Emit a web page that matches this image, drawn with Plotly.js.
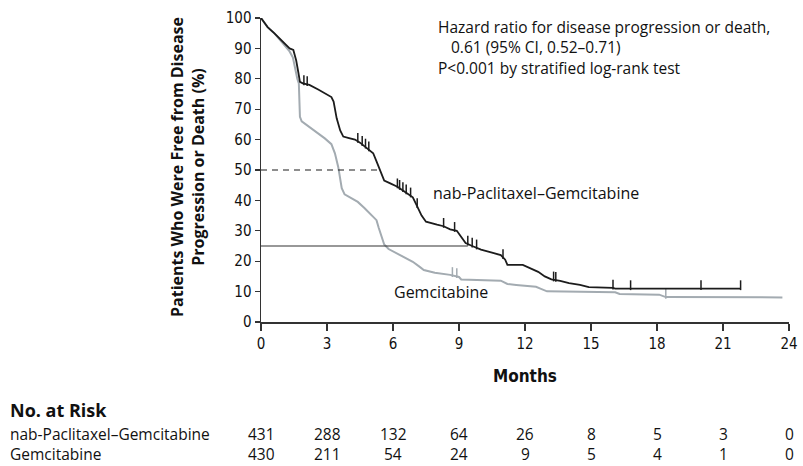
<!DOCTYPE html>
<html>
<head>
<meta charset="utf-8">
<script src="https://cdn.plot.ly/plotly-3.0.1.min.js"></script>
<style>
html,body{margin:0;padding:0;background:#fff;}
#chart{width:803px;height:466px;}
</style>
</head>
<body>
<div id="chart"></div>
<script>
// Kaplan-Meier curves (months, % free from progression or death)
const nabTime = [0,0.3,0.6,1.0,1.3,1.47,1.6,1.7,1.77,1.9,2.2,2.6,3.0,3.2,3.3,3.44,3.6,3.74,4.0,4.27,4.5,4.73,5.1,5.26,5.41,5.5,5.6,5.9,6.2,6.5,6.9,7.1,7.3,7.5,7.7,8.0,8.3,8.6,8.9,9.1,9.3,9.6,10.0,10.5,10.9,11.1,11.2,11.9,12.2,12.6,12.9,13.2,13.6,14.0,14.5,14.9,16.0,16.1,21.8];
const nabSurv = [100,97,95,92,90,89.5,86,82,79,78.5,78,76.5,75,74,72.5,67,63,61,60.5,60,59,57.7,55.5,52.7,50,48,46.5,45.5,44.5,43,41,38,35,33,32.5,32,31.5,30.5,30,28,26,25,23.8,22.8,22,20.5,18.8,18.8,17.8,16.5,15,14,13.5,12.8,12.2,11.5,11.2,11.0,11.0];
const nabCensor = [1.95,2.1,4.4,4.6,4.75,4.9,6.2,6.3,6.45,6.6,6.8,7.1,8.3,8.8,9.4,9.6,9.8,11.0,13.3,13.4,16.0,16.8,20.0,21.8];

const gemTime = [0,0.3,0.6,1.0,1.3,1.45,1.55,1.65,1.72,1.77,1.85,2.08,2.4,2.9,3.2,3.36,3.51,3.6,3.67,3.8,4.05,4.4,4.7,5.0,5.25,5.35,5.45,5.6,5.8,6.2,6.6,6.9,7.2,7.4,7.9,8.6,9.0,9.1,10.9,11.2,11.6,12.5,12.7,13.0,16.1,16.3,18.1,18.4,23.7];
const gemSurv = [100,97,95,91.5,89,87,83,80,78.5,67.5,66,64.8,63,60.4,58.5,55.5,51,47,44,42,41,39.5,37.5,35.5,33.5,31,28.5,25.5,24,22.5,21,19.8,18.2,17.1,16.2,15.5,14.8,14.0,13.6,12.5,12.2,11.6,11,10.1,9.8,9.2,9.0,8.2,8.1];
const gemCensor = [8.7,8.9,18.4];

// Reference lines
const medianLevel = 50, medianEnd = 5.3;
const quartileLevel = 25, quartileEnd = 9.4;

// Axis ticks
const xTicks = [0,3,6,9,12,15,18,21,24];
const yTicks = [0,10,20,30,40,50,60,70,80,90,100];

// Number at risk
const riskNab = [431,288,132,64,26,8,5,3,0];
const riskGem = [430,211,54,24,9,5,4,1,0];
const labelNab = 'nab-Paclitaxel\u2013Gemcitabine';
const labelGem = 'Gemcitabine';

const BLACK = '#1c1c1c';
const GREY = '#a3abb1';
const COND = '"Liberation Sans Narrow","DejaVu Sans Condensed",Arial,sans-serif';
const SANS = '"Open Sans","DejaVu Sans",sans-serif';

function interpAt(times, surv, t){
  if (t <= times[0]) return surv[0];
  for (let i=1;i<times.length;i++){
    if (t <= times[i]){
      const f = (t-times[i-1])/(times[i]-times[i-1]);
      return surv[i-1] + f*(surv[i]-surv[i-1]);
    }
  }
  return surv[surv.length-1];
}

const traces = [
  {x: gemTime, y: gemSurv, type:'scatter', mode:'lines', line:{shape:'linear', color:GREY, width:2}, cliponaxis:false, hoverinfo:'skip'},
  {x: gemCensor, y: gemCensor.map(t=>interpAt(gemTime,gemSurv,t)+1.1), type:'scatter', mode:'markers',
   marker:{symbol:'line-ns', size:7, line:{color:GREY, width:1.5}}, cliponaxis:false, hoverinfo:'skip'},
  {x: nabTime, y: nabSurv, type:'scatter', mode:'lines', line:{shape:'linear', color:BLACK, width:1.8}, cliponaxis:false, hoverinfo:'skip'},
  {x: nabCensor, y: nabCensor.map(t=>interpAt(nabTime,nabSurv,t)+1.1), type:'scatter', mode:'markers',
   marker:{symbol:'line-ns', size:7, line:{color:BLACK, width:1.5}}, cliponaxis:false, hoverinfo:'skip'},
  {x:[0, medianEnd], y:[medianLevel, medianLevel], type:'scatter', mode:'lines', line:{color:BLACK, width:1.2, dash:'6px,5px'}, hoverinfo:'skip'},
  {x:[0, quartileEnd], y:[quartileLevel, quartileLevel], type:'scatter', mode:'lines', line:{color:'#333', width:1.1}, hoverinfo:'skip'}
];

// geometry helpers (pixel -> paper) for plot area l=261, t=18, w=528, h=304
const PL=261, PT=18, PW=528, PH=304;
const px2paperX = px => (px-PL)/PW;
const py2paperY = py => (PT+PH-py)/PH;

const annotations = [];
function ann(o){ annotations.push(Object.assign({showarrow:false, borderpad:0}, o)); }

const TXT = {family:SANS, size:15.5, color:'#111'};
ann({xref:'x', yref:'y', x:8.0, y:97, xanchor:'left', yanchor:'middle', text:'Hazard ratio for disease progression or death,', font:TXT});
ann({xref:'x', yref:'y', x:8.6, y:90.4, xanchor:'left', yanchor:'middle', text:'0.61 (95% CI, 0.52\u20130.71)', font:TXT});
ann({xref:'x', yref:'y', x:8.0, y:83.6, xanchor:'left', yanchor:'middle', text:'P&lt;0.001 by stratified log-rank test', font:TXT});
ann({xref:'x', yref:'y', x:7.77, y:42.4, xanchor:'left', yanchor:'middle', text:labelNab, font:{family:SANS, size:16, color:'#111'}});
ann({xref:'x', yref:'y', x:6.0, y:9.9, xanchor:'left', yanchor:'middle', text:labelGem, font:{family:SANS, size:16, color:'#111'}});

// y-axis title (two lines)
ann({xref:'paper', yref:'paper', x:px2paperX(187), y:py2paperY(167), xanchor:'center', yanchor:'middle', textangle:-90,
     text:'<b>Patients Who Were Free from Disease<br>Progression or Death (%)</b>', font:{family:SANS, size:16, color:'#111'}});
// x-axis title
ann({xref:'paper', yref:'paper', x:px2paperX(525), y:py2paperY(376), xanchor:'center', yanchor:'middle',
     text:'<b>Months</b>', font:{family:COND, size:17, color:'#111'}});
// risk table
const RISK = {family:SANS, size:15.5, color:'#111'};
ann({xref:'paper', yref:'paper', x:px2paperX(9), y:py2paperY(410), xanchor:'left', yanchor:'middle',
     text:'<b>No. at Risk</b>', font:{family:SANS, size:18, color:'#111'}});
ann({xref:'paper', yref:'paper', x:px2paperX(9), y:py2paperY(434), xanchor:'left', yanchor:'middle',
     text:labelNab, font:RISK});
ann({xref:'paper', yref:'paper', x:px2paperX(9), y:py2paperY(454), xanchor:'left', yanchor:'middle',
     text:labelGem, font:RISK});
xTicks.forEach((t,i)=>{
  ann({xref:'x', yref:'paper', x:t, y:py2paperY(434), xanchor:'center', yanchor:'middle', text:String(riskNab[i]), font:RISK});
  ann({xref:'x', yref:'paper', x:t, y:py2paperY(454), xanchor:'center', yanchor:'middle', text:String(riskGem[i]), font:RISK});
});

const layout = {
  width:803, height:466,
  margin:{l:PL, r:803-PL-PW, t:PT, b:466-PT-PH, pad:0},
  paper_bgcolor:'#fff', plot_bgcolor:'#fff',
  showlegend:false,
  xaxis:{range:[0,24], tickvals:xTicks, ticktext:xTicks.map(String), showgrid:false, zeroline:false,
         showline:true, linecolor:'#333', linewidth:1.5, ticks:'outside', ticklen:7, tickwidth:1.3, tickcolor:'#333',
         tickfont:{family:COND, size:15, color:'#111'}, fixedrange:true},
  yaxis:{range:[0,100], tickvals:yTicks, ticktext:yTicks.map(String), showgrid:false, zeroline:false,
         showline:true, linecolor:'#333', linewidth:1.5, ticks:'outside', ticklen:5, tickwidth:1.3, tickcolor:'#333',
         tickfont:{family:COND, size:15, color:'#111'}, fixedrange:true},
  annotations: annotations
};

Plotly.newPlot('chart', traces, layout, {staticPlot:true, displayModeBar:false});
</script>
</body>
</html>
